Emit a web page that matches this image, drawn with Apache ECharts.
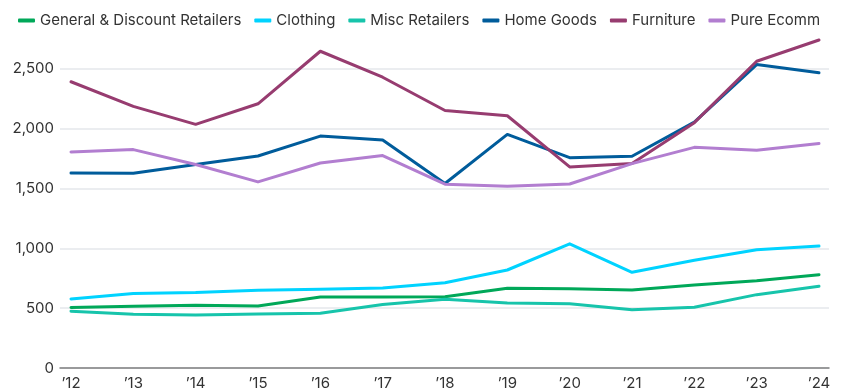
<!DOCTYPE html>
<html>
<head>
<meta charset="utf-8">
<script src="https://cdn.jsdelivr.net/npm/echarts@6/dist/echarts.min.js"></script>
<style>
html,body{margin:0;padding:0;background:#fff;}
#chart{width:842px;height:392px;}
</style>
</head>
<body>
<div id="chart"></div>
<script>
const years = [2012, 2013, 2014, 2015, 2016, 2017, 2018, 2019, 2020, 2021, 2022, 2023, 2024];
const yearLabels = ['’12', '’13', '’14', '’15', '’16', '’17', '’18', '’19', '’20', '’21', '’22', '’23', '’24'];
const yTicks = [0, 500, 1000, 1500, 2000, 2500];

const seriesNames = ['General & Discount Retailers', 'Clothing', 'Misc Retailers', 'Home Goods', 'Furniture', 'Pure Ecomm'];
const generalDiscount = [505, 515, 525, 519, 594, 594, 595, 667, 663, 652, 694, 730, 780];
const clothing = [577, 622, 630, 650, 658, 669, 713, 819, 1038, 800, 900, 988, 1019];
const miscRetailers = [475, 450, 442, 452, 458, 530, 575, 544, 536, 486, 508, 613, 683];
const homeGoods = [1630, 1627, 1700, 1772, 1938, 1905, 1542, 1952, 1758, 1769, 2055, 2536, 2467];
const furniture = [2392, 2186, 2036, 2208, 2647, 2430, 2152, 2108, 1680, 1708, 2050, 2563, 2741];
const pureEcomm = [1805, 1825, 1700, 1555, 1713, 1775, 1536, 1519, 1538, 1708, 1844, 1819, 1877];

const colors = ['#00a859', '#00d3ff', '#17c4ab', '#005c9b', '#973c70', '#b27ed0'];
const values = [generalDiscount, clothing, miscRetailers, homeGoods, furniture, pureEcomm];

const chart = echarts.init(document.getElementById('chart'), null, {renderer: 'canvas'});
const font = 'Inter, "Noto Sans", sans-serif';

chart.setOption({
  animation: false,
  color: colors,
  textStyle: {fontFamily: font},
  legend: {
    top: 8,
    left: 13,
    itemWidth: 17,
    itemHeight: 4,
    itemGap: 13,
    icon: 'roundRect',
    textStyle: {fontFamily: font, fontSize: 15, color: '#333'},
    data: seriesNames
  },
  grid: {left: 60, right: 13, top: 9, bottom: 24, containLabel: false},
  xAxis: {
    type: 'value',
    min: 2012 - 11 / 62.33,
    max: 2024 + 10 / 62.33,
    axisLine: {show: true, onZero: false, lineStyle: {color: '#7f7f7f', width: 1.5}},
    axisTick: {show: false},
    splitLine: {show: false},
    axisLabel: {
      customValues: years,
      margin: 8,
      fontFamily: font,
      fontSize: 15,
      color: '#333',
      formatter: function (v) { const i = years.indexOf(Math.round(v)); return i >= 0 ? yearLabels[i] : ''; }
    }
  },
  yAxis: {
    type: 'value',
    min: 0,
    max: 3000,
    interval: 500,
    axisLine: {show: false},
    axisTick: {show: false},
    axisLabel: {
      showMaxLabel: false,
      margin: 6,
      fontFamily: font,
      fontSize: 15,
      color: '#333',
      formatter: function (v) { return yTicks.indexOf(v) >= 0 ? v.toLocaleString('en-US') : ''; }
    },
    splitLine: {show: true, showMaxLine: false, lineStyle: {color: '#e4e7eb', width: 1.5}}
  },
  series: seriesNames.map(function (name, i) {
    return {
      name: name,
      type: 'line',
      data: years.map(function (y, j) { return [y, values[i][j]]; }),
      symbol: 'none',
      lineStyle: {width: 3, color: colors[i], cap: 'round', join: 'round'},
      z: 2 + (i === 2 ? 0 : i)
    };
  })
});
</script>
</body>
</html>
